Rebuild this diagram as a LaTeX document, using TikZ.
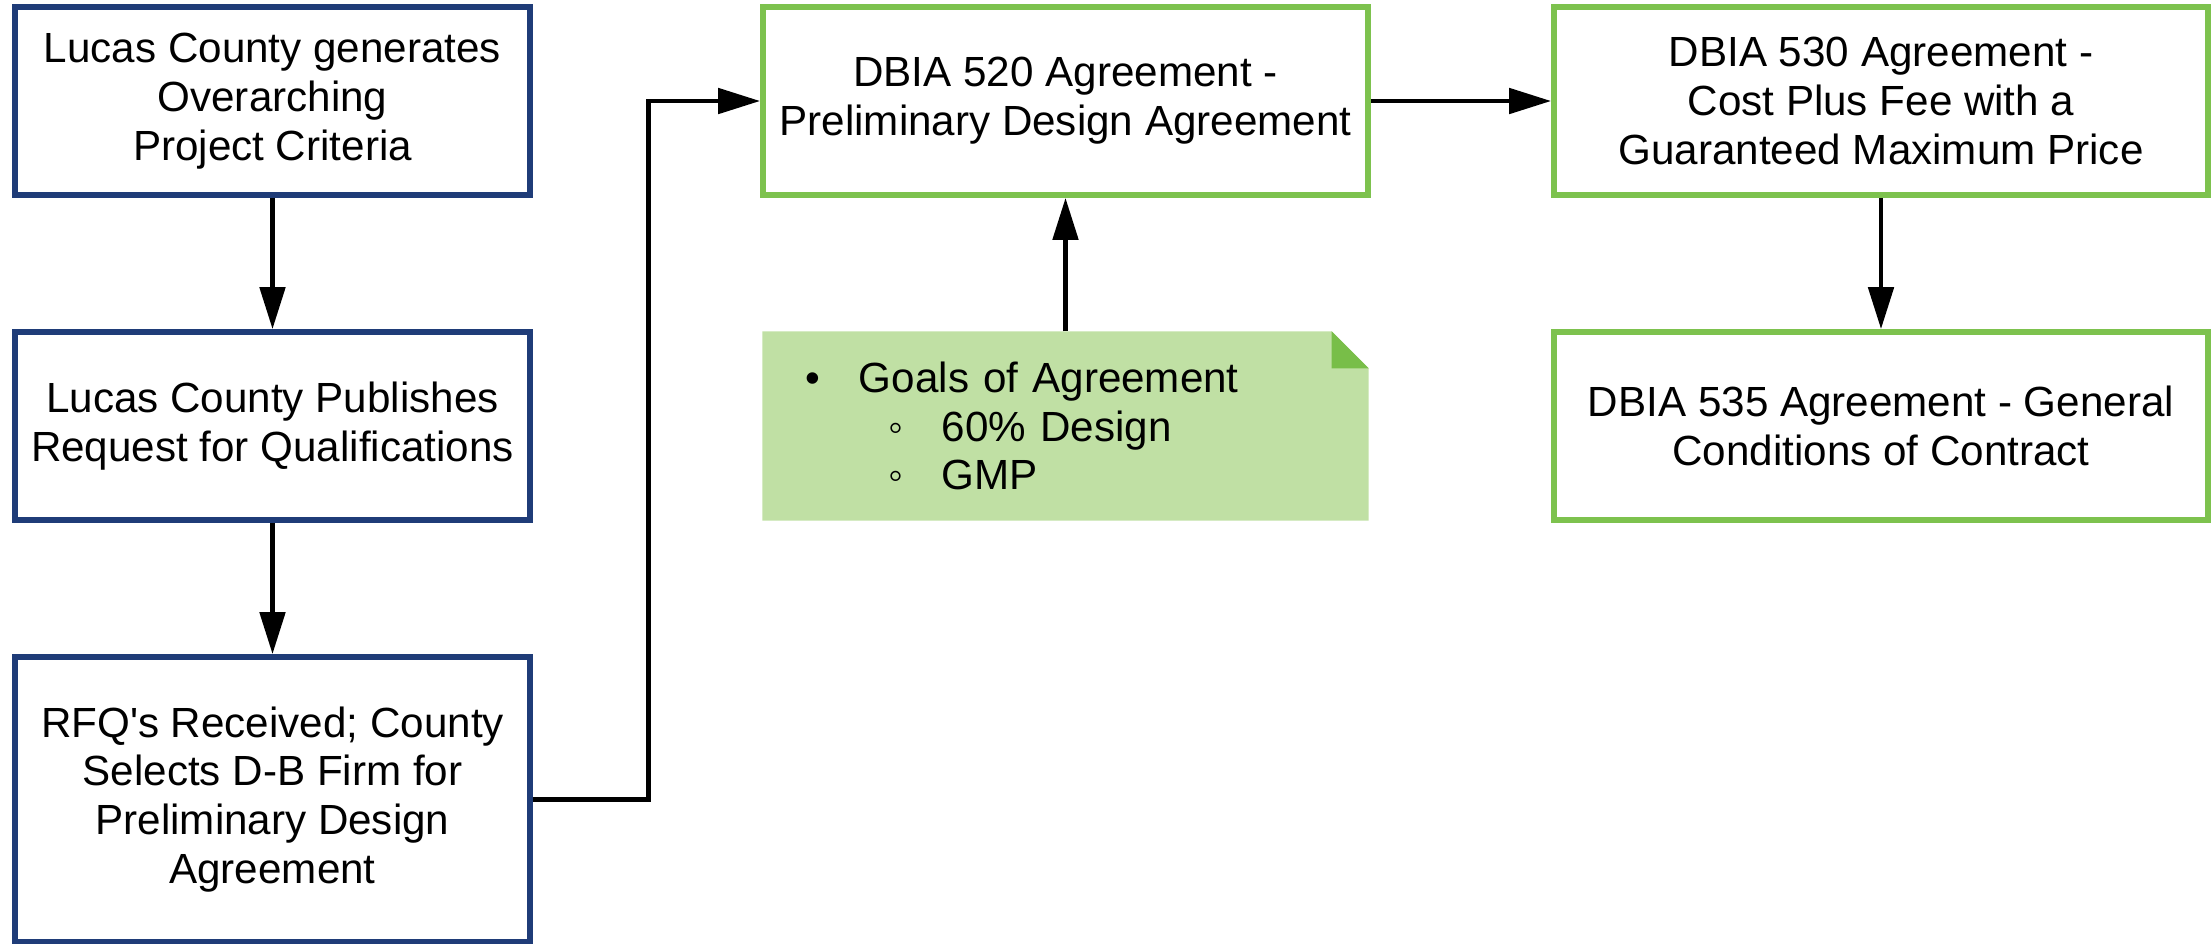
\documentclass[tikz,border=0pt]{standalone}
\usepackage{fontspec}
\setmainfont{Liberation Sans}[Ligatures=TeXOff]
\usetikzlibrary{arrows.meta,backgrounds,calc}

\definecolor{countyblue}{HTML}{1F3C78}
\definecolor{dbiagreen}{HTML}{7DC24E}
\definecolor{notefill}{HTML}{C0E0A4}
\definecolor{foldgreen}{HTML}{78BE48}

\tikzset{
  county/.style={draw=countyblue, line width=1.6pt, minimum width=5.15cm, minimum height=1.88cm, align=center},
  dbia/.style={draw=dbiagreen, line width=1.6pt, minimum height=1.88cm, align=center},
  goal/.style={minimum width=6.05cm, minimum height=1.88cm, text width=5.21cm, inner xsep=0.42cm, align=left},
  arr/.style={-{Triangle[length=0.42cm,width=0.25cm]}, line width=1.4pt}
}

\begin{document}
\begin{tikzpicture}[font=\fontsize{12}{13.9}\selectfont]
			\useasboundingbox (0,0) rectangle (22.11,-9.43);
			\node[county] (criteria) at (2.725,-1.01) {Lucas County generates\\Overarching\\Project Criteria};
			\node[county] (rfq) at (2.725,-4.26) {Lucas County Publishes\\Request for Qualifications};
			\node[county, minimum height=2.85cm] (select) at (2.725,-7.995) {RFQ's Received; County\\Selects D-B Firm for\\Preliminary Design\\Agreement};
			\node[dbia, minimum width=6.05cm] (pda) at (10.655,-1.01) {DBIA 520 Agreement -\\Preliminary Design Agreement};
			\node[goal] (goals) at (10.655,-4.26) {\makebox[0.54cm][l]{•}Goals of Agreement\\\hspace*{0.83cm}\makebox[0.54cm][l]{◦}60\% Design\\\hspace*{0.83cm}\makebox[0.54cm][l]{◦}GMP};
			\node[dbia, minimum width=6.54cm] (gmp) at (18.81,-1.01) {DBIA 530 Agreement -\\Cost Plus Fee with a\\Guaranteed Maximum Price};
			\node[dbia, minimum width=6.54cm] (general) at (18.81,-4.26) {DBIA 535 Agreement - General\\Conditions of Contract};
			% note with folded corner
			\begin{pgfonlayer}{background}
			\fill[notefill] (goals.south west) |- ($(goals.north east)+(-0.37,0)$) -- ($(goals.north east)+(0,-0.37)$) -- (goals.south east) -- cycle;
			\fill[foldgreen] ($(goals.north east)+(-0.37,0)$) -- ($(goals.north east)+(0,-0.37)$) -- ($(goals.north east)+(-0.37,-0.37)$) -- cycle;
			\end{pgfonlayer}
			\draw[arr] (criteria) -- (rfq);
			\draw[arr] (rfq) -- (select);
			\draw[arr] (select.east) -- ++(1.16,0) |- (pda.west);
			\draw[arr] (pda) -- (gmp);
			\draw[arr] (goals) -- (pda);
			\draw[arr] (gmp) -- (general);
		\end{tikzpicture}
\end{document}
